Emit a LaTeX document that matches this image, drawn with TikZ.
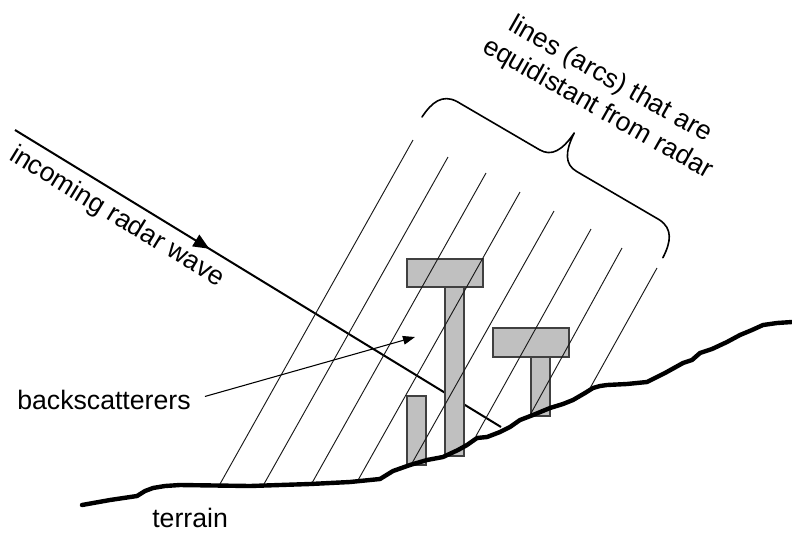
\documentclass[tikz,border=0pt]{standalone}
\usepackage{fontspec}
\setmainfont{Liberation Sans}
\usetikzlibrary{arrows.meta,decorations.markings}
\definecolor{blockfill}{HTML}{C0C0C0}
\definecolor{blockedge}{HTML}{404040}
\begin{document}
\begin{tikzpicture}[x=0.75pt,y=-0.75pt,
  txt/.style={inner sep=0pt, font=\fontsize{20}{24}\selectfont},
  blockrect/.style={fill=blockfill, draw=blockedge, line width=0.8pt},
  rangeline/.style={draw=black!90, line width=0.7pt},
  groundline/.style={line width=3.3pt, line join=round, line cap=round},
  waveline/.style={line width=1.5pt, postaction={decorate, decoration={markings,
      mark=at position 0.4 with {\arrow{Triangle[length=12pt,width=10pt]}}}}},
  pointerline/.style={line width=0.8pt, -{Triangle[length=9pt,width=6.5pt]}},
  bracepath/.style={line width=1.2pt, line join=round, line cap=round}]
\useasboundingbox (0,0) rectangle (792,536);

% incoming wave, running under the structures to the slope
\coordinate (wStart) at (15,130);
\coordinate (wEnd) at (501,427);
\draw[waveline] (wStart) -- (wEnd);
\node[txt, anchor=base west, rotate=-31.4] (lblWave) at (8,159) {incoming radar wave};

% backscattering structures
\draw[blockrect] (407,259) rectangle (483,287);
\draw[blockrect] (445,287) rectangle (464,456);
\draw[blockrect] (493,328) rectangle (569,357);
\draw[blockrect] (531,357) rectangle (550,416);
\draw[blockrect] (407,396) rectangle (426,465);

% lines of equal range
\foreach \tx/\ty/\bx/\by in {413/140/220/484, 448/157/264/484, 486/173/312/483,
    520/192/357/482, 554/211/411/465, 591/229/476/436, 622/248/529/417, 657/268/589/390}
  \draw[rangeline] (\tx,\ty) -- (\bx,\by);

% terrain profile
\draw[groundline] (82,505) -- (110,500) -- (137,496) -- (145,491) -- (153,488) -- (165,486)
  -- (180,485) -- (250,486) -- (310,484) -- (350,482) -- (380,479) -- (393,471)
  -- (410,465) -- (427,460) -- (443,457) -- (458,450) -- (467,445) -- (477,438)
  -- (487,437) -- (500,432) -- (510,427) -- (520,420) -- (533,415) -- (550,408)
  -- (563,404) -- (573,400) -- (585,393) -- (593,388) -- (600,386) -- (607,385)
  -- (627,384) -- (647,382) -- (665,373) -- (683,363) -- (692,360) -- (700,353)
  -- (712,349) -- (727,342) -- (740,335) -- (752,330) -- (763,325) -- (777,323)
  -- (792,322);
\node[txt, anchor=base west] (lblTerrain) at (152,527) {terrain};

% pointer to the structures
\node[txt, anchor=base west] (lblBack) at (17,409) {backscatterers};
\coordinate (bsTip) at (415,337);
\draw[pointerline] ([shift={(14,-3)}]lblBack.east) -- (bsTip);

% brace over the range lines
\begin{scope}[shift={(422,117)}, rotate=-30.3]
  \draw[bracepath] (0,0) .. controls (1,-18) and (6,-30) .. (22,-31) -- (118,-31)
    .. controls (132,-31) and (138,-42) .. (139.5,-63)
    .. controls (141,-42) and (147,-31) .. (161,-31) -- (257,-31)
    .. controls (273,-30) and (278,-18) .. (279,0);
\end{scope}
\node[txt, anchor=base, rotate=-29.5] (lblArcsA) at (607,86) {lines (arcs) that are};
\node[txt, anchor=base, rotate=-29.5] (lblArcsB) at (594,115) {equidistant from radar};
\end{tikzpicture}
\end{document}
